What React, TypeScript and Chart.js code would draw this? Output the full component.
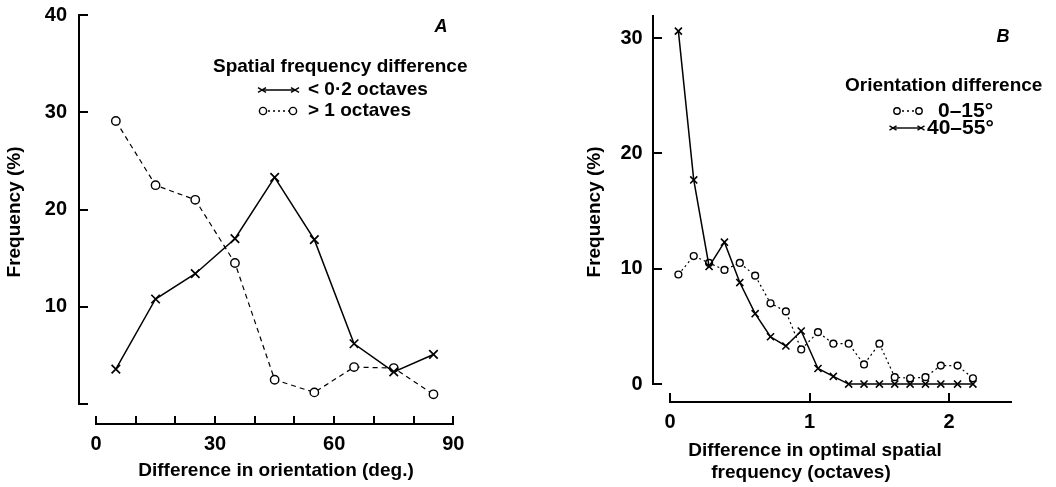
import React, { useEffect, useRef } from "react";
import { Chart, registerables } from "chart.js";

Chart.register(...registerables);

// ---------- Panel A data ----------
const orientationBins = [5, 15, 25, 35, 45, 55, 65, 75, 85];
const sfDiffBelow02 = [3.6, 10.8, 13.4, 17.0, 23.3, 16.9, 6.2, 3.3, 5.1];
const sfDiffAbove1 = [29.1, 22.5, 21.0, 14.5, 2.5, 1.2, 3.8, 3.7, 1.0];
const xTickLabelsA = [0, 30, 60, 90];
const xTickMarksA = [0, 10, 20, 30, 40, 50, 60, 70, 80, 90];
const yTickLabelsA = [10, 20, 30, 40];
const yTickMarksA = [0, 10, 20, 30, 40];

// ---------- Panel B data ----------
const sfBins = [0.06, 0.17, 0.28, 0.39, 0.5, 0.61, 0.72, 0.83, 0.94, 1.06, 1.17, 1.28, 1.39, 1.5, 1.61, 1.72, 1.83, 1.94, 2.06, 2.17];
const oriDiff0to15 = [9.5, 11.1, 10.5, 9.9, 10.5, 9.4, 7.0, 6.3, 3.0, 4.5, 3.5, 3.5, 1.7, 3.5, 0.6, 0.5, 0.6, 1.6, 1.6, 0.5];
const oriDiff40to55 = [30.6, 17.7, 10.2, 12.3, 8.8, 6.1, 4.1, 3.3, 4.6, 1.35, 0.66, 0, 0, 0, 0, 0, 0, 0, 0, 0];
const xTickLabelsB = [0, 1, 2];
const xTickMarksB = [0, 1, 2];
const yTickLabelsB = [0, 10, 20, 30];
const yTickMarksB = [0, 10, 20, 30];

const FONT = '"Liberation Sans", Arial, Helvetica, sans-serif';
const INK = "#000";

function drawCross(ctx: CanvasRenderingContext2D, x: number, y: number, w: number, h: number) {
  ctx.beginPath();
  ctx.moveTo(x - w, y - h);
  ctx.lineTo(x + w, y + h);
  ctx.moveTo(x - w, y + h);
  ctx.lineTo(x + w, y - h);
  ctx.stroke();
}

function drawCircle(ctx: CanvasRenderingContext2D, x: number, y: number, r: number) {
  ctx.beginPath();
  ctx.arc(x, y, r, 0, Math.PI * 2);
  ctx.fillStyle = "#fff";
  ctx.fill();
  ctx.stroke();
}

type LegendRow = {
  kind: "cross" | "circle";
  x1: number;
  x2: number;
  y: number;
  dash: number[];
  text: string;
  textX: number;
  font: string;
  mr: number;
};

type Decor = {
  xLine: [number, number];
  yLine: [number, number];
  xMarks: number[];
  yMarks: number[];
  xTickLen: number;
  yTickLen: number;
  yTitle: { text: string; x: number; y: number };
  xTitle: { text: string; x: number; y: number }[];
  letter: { text: string; x: number; y: number };
  legendTitle: { text: string; x: number; y: number };
  rows: LegendRow[];
};

function makeDecorPlugin(d: Decor) {
  return {
    id: "decor",
    afterDraw(chart: any) {
      const ctx: CanvasRenderingContext2D = chart.ctx;
      const xs = chart.scales.x;
      const ys = chart.scales.y;
      const area = chart.chartArea;
      ctx.save();
      ctx.strokeStyle = INK;
      ctx.fillStyle = INK;
      ctx.lineWidth = 2;
      // y axis line
      const ax = Math.round(area.left);
      const yTop = ys.getPixelForValue(d.yLine[1]);
      const yBot = ys.getPixelForValue(d.yLine[0]);
      ctx.beginPath();
      ctx.moveTo(ax, yTop);
      ctx.lineTo(ax, yBot + 1);
      ctx.stroke();
      for (const v of d.yMarks) {
        const py = Math.round(ys.getPixelForValue(v));
        ctx.beginPath();
        ctx.moveTo(ax - 1, py);
        ctx.lineTo(ax + d.yTickLen, py);
        ctx.stroke();
      }
      // x axis line
      const ay = Math.round(area.bottom);
      const xL = xs.getPixelForValue(d.xLine[0]);
      const xR = xs.getPixelForValue(d.xLine[1]);
      ctx.beginPath();
      ctx.moveTo(xL - 1, ay);
      ctx.lineTo(xR, ay);
      ctx.stroke();
      for (const v of d.xMarks) {
        const px = Math.round(xs.getPixelForValue(v));
        ctx.beginPath();
        ctx.moveTo(px, ay + 1);
        ctx.lineTo(px, ay - d.xTickLen);
        ctx.stroke();
      }
      // titles
      ctx.font = `bold 19px ${FONT}`;
      ctx.textAlign = "center";
      ctx.textBaseline = "middle";
      for (const t of d.xTitle) ctx.fillText(t.text, t.x, t.y);
      ctx.save();
      ctx.translate(d.yTitle.x, d.yTitle.y);
      ctx.rotate(-Math.PI / 2);
      ctx.fillText(d.yTitle.text, 0, 0);
      ctx.restore();
      // panel letter
      ctx.font = `italic bold 18px ${FONT}`;
      ctx.fillText(d.letter.text, d.letter.x, d.letter.y);
      // legend
      ctx.textAlign = "left";
      ctx.font = `bold 19px ${FONT}`;
      ctx.fillText(d.legendTitle.text, d.legendTitle.x, d.legendTitle.y);
      for (const r of d.rows) {
        ctx.lineWidth = 1.4;
        ctx.setLineDash(r.dash);
        ctx.beginPath();
        ctx.moveTo(r.x1, r.y);
        ctx.lineTo(r.x2, r.y);
        ctx.stroke();
        ctx.setLineDash([]);
        if (r.kind === "cross") {
          drawCross(ctx, r.x1, r.y, r.mr, r.mr * 0.6);
          drawCross(ctx, r.x2, r.y, r.mr, r.mr * 0.6);
        } else {
          drawCircle(ctx, r.x1, r.y, r.mr);
          drawCircle(ctx, r.x2, r.y, r.mr);
        }
        ctx.font = r.font;
        ctx.fillStyle = INK;
        ctx.fillText(r.text, r.textX, r.y);
      }
      ctx.restore();
    },
  };
}

function baseScales(opts: {
  xMin: number; xMax: number; yMin: number; yMax: number;
  xLabels: number[]; yLabels: number[];
  yWidth: number; xHeight: number; xPad: number; yPad: number;
}) {
  const tickFont = { family: FONT, size: 20, weight: "bold" as const };
  return {
    x: {
      type: "linear" as const,
      min: opts.xMin,
      max: opts.xMax,
      grid: { display: false, drawTicks: false },
      border: { display: false },
      afterBuildTicks: (s: any) => {
        s.ticks = opts.xLabels.map((v) => ({ value: v }));
      },
      afterFit: (s: any) => {
        s.height = opts.xHeight;
        s.paddingLeft = 0;
        s.paddingRight = 0;
        s.paddingTop = 0;
        s.paddingBottom = 0;
      },
      ticks: {
        padding: opts.xPad,
        font: tickFont,
        color: INK,
        maxRotation: 0,
        autoSkip: false,
        callback: (v: any) => String(v),
      },
    },
    y: {
      type: "linear" as const,
      min: opts.yMin,
      max: opts.yMax,
      grid: { display: false, drawTicks: false },
      border: { display: false },
      afterBuildTicks: (s: any) => {
        s.ticks = opts.yLabels.map((v) => ({ value: v }));
      },
      afterFit: (s: any) => {
        s.width = opts.yWidth;
        s.paddingLeft = 0;
        s.paddingRight = 0;
        s.paddingTop = 0;
        s.paddingBottom = 0;
      },
      ticks: {
        padding: opts.yPad,
        font: tickFont,
        color: INK,
        autoSkip: false,
        callback: (v: any) => String(v),
      },
    },
  };
}

function configA(): any {
  return {
    type: "line",
    data: {
      datasets: [
        {
          label: "< 0·2 octaves",
          data: orientationBins.map((x, i) => ({ x, y: sfDiffBelow02[i] })),
          borderColor: INK,
          borderWidth: 1.5,
          pointStyle: "crossRot",
          pointRadius: 6,
          pointBorderWidth: 1.7,
          pointBorderColor: INK,
          pointBackgroundColor: INK,
          tension: 0,
          clip: false,
        },
        {
          label: "> 1 octaves",
          data: orientationBins.map((x, i) => ({ x, y: sfDiffAbove1[i] })),
          borderColor: INK,
          borderWidth: 1.2,
          borderDash: [5, 4],
          pointStyle: "circle",
          pointRadius: 4.2,
          pointBorderWidth: 1.4,
          pointBorderColor: INK,
          pointBackgroundColor: "#fff",
          tension: 0,
          clip: false,
        },
      ],
    },
    options: {
      animation: false,
      responsive: false,
      devicePixelRatio: 1,
      layout: { padding: { top: 15, right: 66.7, left: 0, bottom: 0 } },
      plugins: { legend: { display: false }, tooltip: { enabled: false }, title: { display: false } },
      scales: baseScales({
        xMin: -4.28, xMax: 90, yMin: -2, yMax: 40,
        xLabels: xTickLabelsA, yLabels: yTickLabelsA,
        yWidth: 79, xHeight: 63.5, xPad: 9, yPad: 12,
      }),
    },
    plugins: [
      makeDecorPlugin({
        xLine: [0, 90],
        yLine: [0, 40],
        xMarks: xTickMarksA,
        yMarks: yTickMarksA,
        xTickLen: 8,
        yTickLen: 9,
        yTitle: { text: "Frequency (%)", x: 15, y: 212 },
        xTitle: [{ text: "Difference in orientation (deg.)", x: 276, y: 471 }],
        letter: { text: "A", x: 441, y: 27 },
        legendTitle: { text: "Spatial frequency difference", x: 213, y: 67 },
        rows: [
          { kind: "cross", x1: 262, x2: 295, y: 90, dash: [], text: "< 0·2 octaves", textX: 308, font: `bold 19px ${FONT}`, mr: 4 },
          { kind: "circle", x1: 263, x2: 293, y: 111, dash: [2, 3], text: "> 1 octaves", textX: 308, font: `bold 19px ${FONT}`, mr: 3.6 },
        ],
      }),
    ],
  };
}

function configB(): any {
  return {
    type: "line",
    data: {
      datasets: [
        {
          label: "40–55°",
          data: sfBins.map((x, i) => ({ x, y: oriDiff40to55[i] })),
          borderColor: INK,
          borderWidth: 1.5,
          pointStyle: "crossRot",
          pointRadius: 5,
          pointBorderWidth: 1.6,
          pointBorderColor: INK,
          pointBackgroundColor: INK,
          tension: 0,
          clip: false,
        },
        {
          label: "0–15°",
          data: sfBins.map((x, i) => ({ x, y: oriDiff0to15[i] })),
          borderColor: INK,
          borderWidth: 1.2,
          borderDash: [2, 3],
          pointStyle: "circle",
          pointRadius: 3.4,
          pointBorderWidth: 1.4,
          pointBorderColor: INK,
          pointBackgroundColor: "#fff",
          tension: 0,
          clip: false,
        },
      ],
    },
    options: {
      animation: false,
      responsive: false,
      devicePixelRatio: 1,
      layout: { padding: { top: 15, right: 44, left: 0, bottom: 0 } },
      plugins: { legend: { display: false }, tooltip: { enabled: false }, title: { display: false } },
      scales: baseScales({
        xMin: -0.124, xMax: 2.45, yMin: -1.53, yMax: 32,
        xLabels: xTickLabelsB, yLabels: yTickLabelsB,
        yWidth: 132.7, xHeight: 85.3, xPad: 9, yPad: 10,
      }),
    },
    plugins: [
      makeDecorPlugin({
        xLine: [0, 2.45],
        yLine: [0, 32],
        xMarks: xTickMarksB,
        yMarks: yTickMarksB,
        xTickLen: 9,
        yTickLen: 9,
        yTitle: { text: "Frequency (%)", x: 75, y: 212 },
        xTitle: [
          { text: "Difference in optimal spatial", x: 295, y: 451 },
          { text: "frequency (octaves)", x: 281, y: 473 },
        ],
        letter: { text: "B", x: 483, y: 37 },
        legendTitle: { text: "Orientation difference", x: 325, y: 86 },
        rows: [
          { kind: "circle", x1: 377, x2: 399, y: 111, dash: [2, 3], text: "0–15°", textX: 418, font: `bold 21px ${FONT}`, mr: 3.2 },
          { kind: "cross", x1: 373, x2: 401, y: 128, dash: [], text: "40–55°", textX: 407, font: `bold 21px ${FONT}`, mr: 3.5 },
        ],
      }),
    ],
  };
}

function ChartPanel({ make, left, width }: { make: () => any; left: number; width: number }) {
  const ref = useRef<HTMLCanvasElement>(null);
  useEffect(() => {
    if (!ref.current) return;
    const chart = new Chart(ref.current, make());
    return () => chart.destroy();
  }, [make]);
  return (
    <canvas
      ref={ref}
      width={width}
      height={487}
      style={{ position: "absolute", left, top: 0, width, height: 487, display: "block" }}
    />
  );
}

export default function App() {
  return (
    <div
      style={{
        position: "fixed",
        left: 0,
        top: 0,
        width: 1056,
        height: 487,
        background: "#fff",
        overflow: "hidden",
      }}
    >
      <ChartPanel make={configA} left={0} width={520} />
      <ChartPanel make={configB} left={520} width={536} />
    </div>
  );
}
